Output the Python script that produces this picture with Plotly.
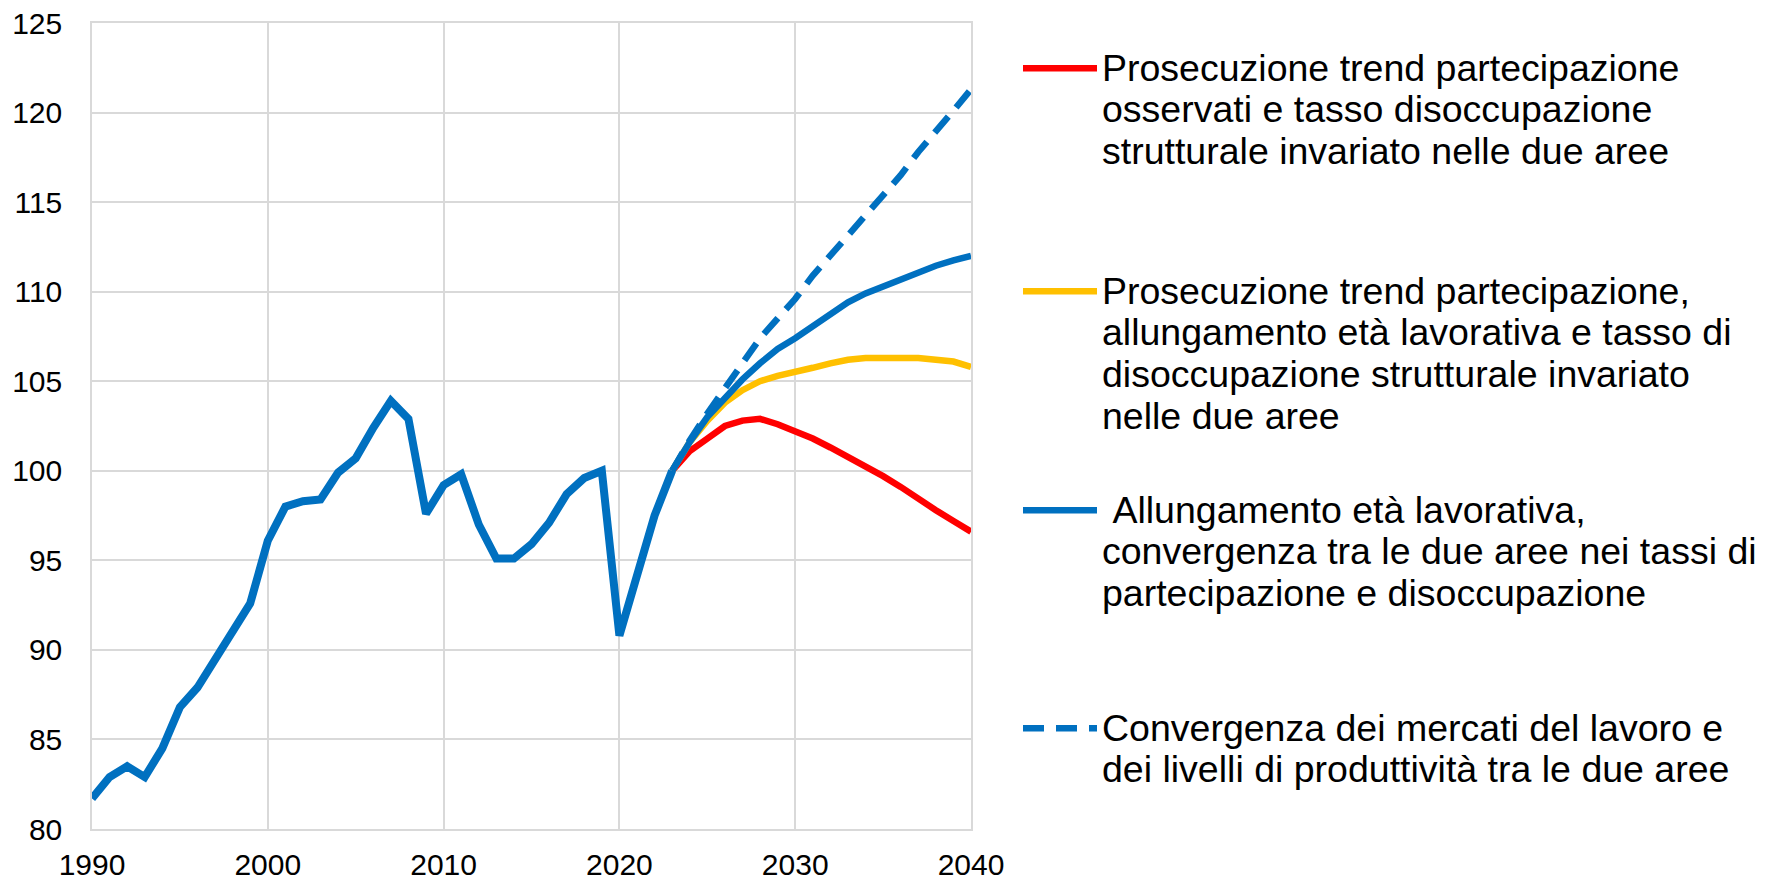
import plotly.graph_objects as go

# observed series (index)
hist_years = list(range(1990, 2024))
hist_values = [81.7, 82.9, 83.5, 82.9, 84.5, 86.8, 87.9, 89.5, 91.1, 92.6,
               96.1, 98.0, 98.3, 98.4, 99.9, 100.7, 102.4, 103.9, 102.9, 97.6,
               99.2, 99.8, 97.0, 95.1, 95.1, 95.9, 97.1, 98.7, 99.6, 100.0,
               90.8, 94.1, 97.5, 100.0]

# scenarios 2023-2040
proj_years = list(range(2023, 2041))
red_values = [100.0, 101.1, 101.8, 102.5, 102.8, 102.9, 102.6, 102.2, 101.8, 101.3,
              100.8, 100.3, 99.7, 99.1, 98.4, 97.8, 97.2, 96.6]
yellow_values = [100.0, 101.6, 102.8, 103.8, 104.5, 105.0, 105.3, 105.5, 105.75, 106.0,
                 106.2, 106.3, 106.3, 106.3, 106.3, 106.2, 106.1, 105.8]
blue_values = [100.0, 101.6, 103.0, 104.1, 105.1, 106.0, 106.8, 107.4, 108.1, 108.8,
               109.4, 109.9, 110.3, 110.7, 111.1, 111.45, 111.75, 112.0]
dashed_values = [100.0, 101.7, 103.2, 104.6, 106.0, 107.4, 108.5, 109.6, 110.9, 112.0,
                 113.1, 114.2, 115.4, 116.5, 117.8, 118.9, 120.1, 121.3]

label_lines = [
    ["Prosecuzione trend partecipazione", "osservati e tasso disoccupazione",
     "strutturale invariato nelle due aree"],
    ["Prosecuzione trend partecipazione,", "allungamento età lavorativa e tasso di",
     "disoccupazione strutturale invariato", "nelle due aree"],
    ["\u00a0Allungamento età lavorativa,", "convergenza tra le due aree nei tassi di",
     "partecipazione e disoccupazione"],
    ["Convergenza dei mercati del lavoro e", "dei livelli di produttività tra le due aree"],
]


def legend_label(lines, size=37.5):
    # bigger glyphs inside a smaller base font keeps the tight line spacing
    return "<br>".join(f'<span style="font-size:{size}px">{t}</span>' for t in lines)


BLUE = "#0070c0"
FONT = "Liberation Sans, Arial, sans-serif"

fig = go.Figure()
fig.add_trace(go.Scatter(x=proj_years, y=red_values, mode="lines", name=legend_label(label_lines[0]),
                         line=dict(color="#ff0000", width=6.5), legend="legend"))
fig.add_trace(go.Scatter(x=proj_years, y=yellow_values, mode="lines", name=legend_label(label_lines[1]),
                         line=dict(color="#ffc000", width=6.5), legend="legend2"))
fig.add_trace(go.Scatter(x=proj_years, y=blue_values, mode="lines", name=legend_label(label_lines[2]),
                         line=dict(color=BLUE, width=6.5), legend="legend3"))
fig.add_trace(go.Scatter(x=proj_years, y=dashed_values, mode="lines", name=legend_label(label_lines[3]),
                         line=dict(color=BLUE, width=6.5, dash="21px,12px"), legend="legend4"))
fig.add_trace(go.Scatter(x=hist_years, y=hist_values, mode="lines", showlegend=False,
                         line=dict(color=BLUE, width=8)))

# page body has an 8px margin, so the figure is placed 8px up/left of the target
PLOT_LEFT, PLOT_W = 84, 879
PLOT_TOP, PLOT_H = 15, 806
legend_tops = [33, 256, 475, 693]
legend_common = dict(xanchor="left", yanchor="top", x=(1010 - PLOT_LEFT) / PLOT_W, valign="top",
                     itemwidth=74, bgcolor="rgba(0,0,0,0)",
                     font=dict(family=FONT, size=32, color="#000000"))
legends = {}
for i, top in enumerate(legend_tops):
    key = "legend" if i == 0 else f"legend{i + 1}"
    legends[key] = dict(legend_common, y=(PLOT_TOP + PLOT_H - top) / PLOT_H)

fig.update_layout(
    width=1767,
    height=882,
    margin=dict(l=PLOT_LEFT, r=1767 - PLOT_LEFT - PLOT_W, t=PLOT_TOP,
                b=882 - PLOT_TOP - PLOT_H, autoexpand=False),
    paper_bgcolor="#ffffff",
    plot_bgcolor="#ffffff",
    font=dict(family=FONT, size=30, color="#000000"),
    **legends,
)
fig.update_xaxes(range=[1990, 2040], dtick=10, tick0=1990, showgrid=True,
                 gridcolor="#d9d9d9", gridwidth=1.5, showline=True, mirror=True,
                 linecolor="#d9d9d9", linewidth=1.5, zeroline=False, automargin=False,
                 ticks="outside", ticklen=8, tickcolor="rgba(0,0,0,0)",
                 ticklabeloverflow="allow")
fig.update_yaxes(range=[80, 125], dtick=5, showgrid=True, gridcolor="#d9d9d9",
                 gridwidth=1.5, showline=True, mirror=True, linecolor="#d9d9d9",
                 linewidth=1.5, zeroline=False, automargin=False,
                 ticks="outside", ticklen=22, tickcolor="rgba(0,0,0,0)",
                 ticklabeloverflow="allow")

fig.write_html("out.html")
